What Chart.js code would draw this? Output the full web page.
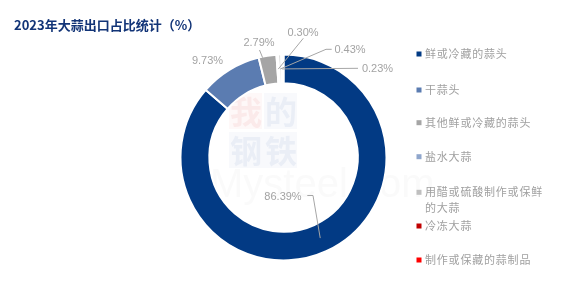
<!DOCTYPE html>
<html><head><meta charset="utf-8">
<script src="https://cdn.jsdelivr.net/npm/chart.js@4.4.1/dist/chart.umd.min.js"></script>
<style>html,body{margin:0;padding:0;background:#fff;overflow:hidden}#wrap{width:567px;height:302px;position:relative}</style>
</head><body><div id="wrap"><canvas id="c" width="567" height="302"></canvas></div>
<script>
// ---- data ----
const chartTitle = '2023年大蒜出口占比统计（%）';
const categories = ['鲜或冷藏的蒜头','干蒜头','其他鲜或冷藏的蒜头','盐水大蒜','用醋或硫酸制作或保鲜的大蒜','冷冻大蒜','制作或保藏的蒜制品'];
const legendLines = [['鲜或冷藏的蒜头'],['干蒜头'],['其他鲜或冷藏的蒜头'],['盐水大蒜'],['用醋或硫酸制作或保鲜','的大蒜'],['冷冻大蒜'],['制作或保藏的蒜制品']];
const shares = [86.39, 9.73, 2.79, 0.30, 0.43, 0.23, 0.13];
const shareLabels = ['86.39%','9.73%','2.79%','0.30%','0.43%','0.23%',''];

// ---- styles ----
const colors = ['#023A84','#5B7CB1','#A5A5A5','#8FA6CC','#BFBFBF','#C00000','#FF0000'];
// label placement relative to doughnut centre: text centre, leader points, anchor radius ('mid' or 'outer')
const labelStyle = [
  {t:[-0.5,39.5], pts:[[23.8,38],[29.5,38]], anchor:'mid'},
  {t:[-76,-96.5], pts:null},
  {t:[-24.5,-115], pts:[[-24,-107.5]], anchor:'outer', angleShift:-0.05},
  {t:[19.5,-124.5], pts:[[19.8,-119.2]], anchor:'mid'},
  {t:[66.5,-108], pts:[[48.2,-108.2],[42.5,-108.2]], anchor:'mid'},
  {t:[94,-89], pts:[[74.5,-89.2]], anchor:'mid'},
  {t:[0,0], pts:null}
];
const legendY = [54, 90, 122.7, 156.7, 192.3, 226, 260];

const decor = {
  id:'decor',
  beforeDatasetsDraw(chart){
    const ctx = chart.ctx;
    ctx.save();
    // faint watermark
    ctx.globalAlpha = 0.035;
    ctx.fillStyle = '#e03030'; ctx.fillRect(229,93,33,36);
    ctx.fillStyle = '#3050a0'; ctx.fillRect(264,93,33,36); ctx.fillRect(229,132,68,36);
    ctx.globalAlpha = 0.09;
    ctx.font = 'bold 32px "Noto Sans CJK SC"';
    ctx.textBaseline = 'middle'; ctx.textAlign = 'center';
    ctx.fillStyle = '#e06060'; ctx.fillText('我', 246, 112);
    ctx.fillStyle = '#6080c0'; ctx.fillText('的', 281, 112); ctx.fillText('钢', 246, 151); ctx.fillText('铁', 281, 151);
    ctx.globalAlpha = 0.04;
    ctx.fillStyle = '#808080';
    ctx.font = '40px "Liberation Sans"';
    ctx.textAlign = 'left';
    ctx.fillText('Mysteel.com', 210, 186);
    ctx.restore();
  },
  afterDraw(chart){
    const ctx = chart.ctx;
    ctx.save();
    // title
    ctx.fillStyle = '#123477';
    ctx.font = 'bold 13px "Noto Sans CJK SC"';
    ctx.textBaseline = 'middle'; ctx.textAlign = 'left';
    ctx.fillText(chartTitle, 14, 25.5);
    // legend
    ctx.font = '11px "Noto Sans CJK SC"';
    ctx.letterSpacing = '0.8px';
    categories.forEach((c,i)=>{
      const y = legendY[i];
      ctx.fillStyle = colors[i];
      ctx.fillRect(416.5, y-2.5, 5, 5);
      ctx.fillStyle = '#A0A0A0';
      legendLines[i].forEach((ln,k)=> ctx.fillText(ln, 425, y + k*15.4));
    });
    ctx.letterSpacing = '0px';
    // data labels
    const meta = chart.getDatasetMeta(0);
    ctx.font = '11px "Liberation Sans"';
    ctx.textAlign = 'center';
    meta.data.forEach((arc,i)=>{
      const txt = shareLabels[i]; if(!txt) return;
      const p = arc.getProps(['x','y','startAngle','endAngle','innerRadius','outerRadius'], true);
      const st = labelStyle[i];
      const cx = p.x, cy = p.y;
      ctx.fillStyle = '#A3A3A3';
      ctx.fillText(txt, cx + st.t[0], cy + st.t[1]);
      if(st.pts){
        const mid = (p.startAngle + p.endAngle)/2 + (st.angleShift||0);
        const r = st.anchor === 'outer' ? p.outerRadius - 1 : (p.innerRadius + p.outerRadius)/2;
        ctx.strokeStyle = '#A6A6A6'; ctx.lineWidth = 1;
        ctx.beginPath();
        st.pts.forEach((q,k)=>{ const X = cx+q[0], Y = cy+q[1]; if(k===0) ctx.moveTo(X,Y); else ctx.lineTo(X,Y); });
        ctx.lineTo(cx + Math.cos(mid)*r, cy + Math.sin(mid)*r);
        ctx.stroke();
      }
    });
    ctx.restore();
  }
};

new Chart(document.getElementById('c'), {
  type:'doughnut',
  data:{ labels: categories, datasets:[{ data: shares, backgroundColor: colors, borderColor:'#ffffff', borderWidth:2 }] },
  options:{
    responsive:false, animation:false, devicePixelRatio:1,
    cutout:'72%',
    layout:{ padding:{ top:53.5, bottom:40.5, left:179.5, right:179.5 } },
    plugins:{ legend:{display:false}, tooltip:{enabled:false}, title:{display:false} }
  },
  plugins:[decor]
});
</script></body></html>
